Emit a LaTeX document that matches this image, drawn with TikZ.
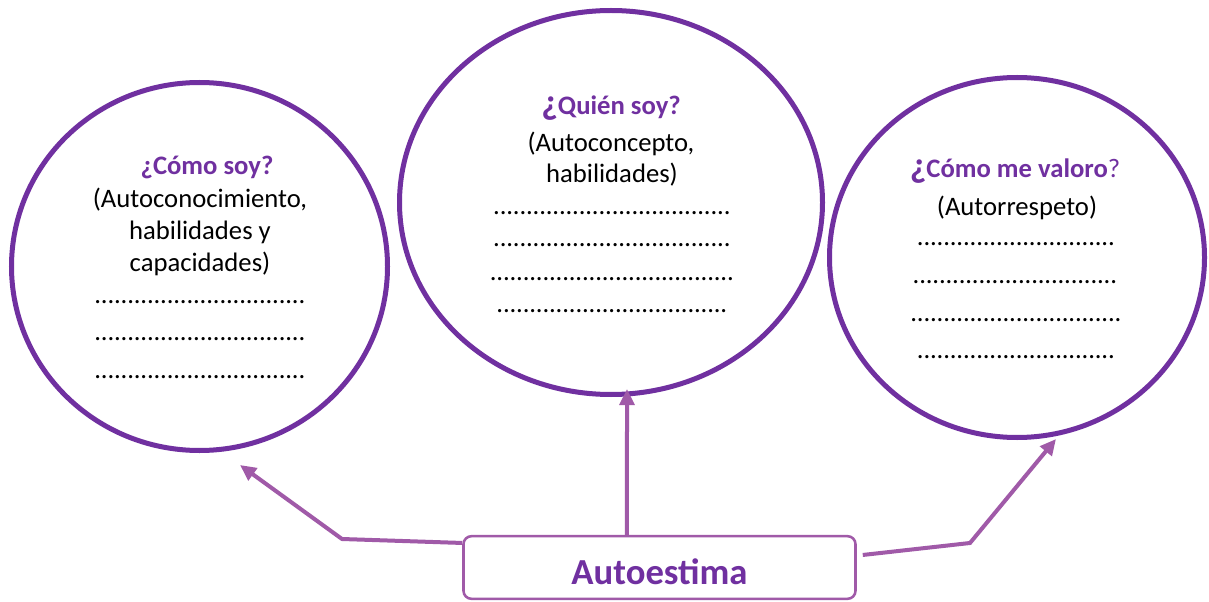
\documentclass[tikz,border=0pt]{standalone}
\usepackage{fontspec}
\setmainfont{Carlito}
\usetikzlibrary{shapes.geometric,arrows.meta}
\definecolor{circ}{HTML}{7030A0}
\definecolor{arr}{RGB}{160,90,168}
\newcommand\dotrow[1]{\hbox to #1{\cleaders\hbox to 4.95pt{\hss.\hss}\hfill}}
\newcommand\bigq{{\fontsize{27pt}{27pt}\selectfont ¿}}
\begin{document}
\begin{tikzpicture}[x=0.75pt,y=-0.75pt,
  bubble/.style={draw=circ,line width=3.75pt,ellipse,inner sep=0pt},
  txt/.style={anchor=base,inner sep=0pt,font=\fontsize{20pt}{24pt}\selectfont},
  ttl/.style={anchor=base,inner sep=0pt,text=circ,font=\fontsize{20pt}{24pt}\selectfont\bfseries},
  link/.style={draw=arr,line width=3pt,-{Triangle[length=12pt,width=11pt]}},
  mainbox/.style={draw=arr,line width=1.9pt,rounded corners=6pt,inner sep=0pt,
    minimum width=294pt,minimum height=47pt,text=circ,
    font=\fontsize{27.5pt}{30pt}\selectfont\bfseries,text height=24.75pt,text depth=0pt}]
\useasboundingbox (0,0) rectangle (1209,602);
\fill[white] (0,0) rectangle (1209,602);

% bubbles
\node[bubble,minimum width=282pt,minimum height=276pt] (cL) at (199.5,266.5) {};
\node[bubble,minimum width=317.25pt,minimum height=288pt] (cM) at (611,202.5) {};
\node[bubble,minimum width=281.25pt,minimum height=270pt] (cR) at (1017,257.5) {};

% left texts
\node[ttl] (tL1) at (207,175) {¿Cómo soy?};
\node[txt] (tL2) at (200,208) {(Autoconocimiento,};
\node[txt] (tL3) at (200,240) {habilidades y};
\node[txt] (tL4) at (200,272) {capacidades)};
\node[txt] (dL1) at (200,303) {\dotrow{162pt}};
\node[txt] (dL2) at (200,340) {\dotrow{159pt}};
\node[txt] (dL3) at (200,378) {\dotrow{159pt}};

% middle texts
\node[ttl] (tM1) at (611,115) {\bigq Quién soy?};
\node[txt] (tM2) at (611,152) {(Autoconcepto,};
\node[txt] (tM3) at (612,183) {habilidades)};
\node[txt] (dM1) at (612,215) {\dotrow{181.5pt}};
\node[txt] (dM2) at (612,247) {\dotrow{181.5pt}};
\node[txt] (dM3) at (612,280) {\dotrow{187.5pt}};
\node[txt] (dM4) at (612,312) {\dotrow{177pt}};

% right texts
\node[ttl] (tR1) at (1015,178) {\bigq Cómo me valoro{\mdseries ?}};
\node[txt] (tR2) at (1017,216) {(Autorrespeto)};
\node[txt] (dR1) at (1016,246) {\dotrow{149pt}};
\node[txt] (dR2) at (1015,283) {\dotrow{154pt}};
\node[txt] (dR3) at (1016,321) {\dotrow{159pt}};
\node[txt] (dR4) at (1016,358) {\dotrow{149pt}};

% central box
\node[mainbox] (auto) at (659.5,567.5) {Autoestima};

% connector points
\coordinate (lb) at (342,539);
\coordinate (lt) at (240,465);
\coordinate (mt) at (627,389);
\coordinate (rb) at (970,543);
\coordinate (rt) at (1056,439);

\draw[link] ([yshift=18.4pt]auto.west) -- (lb) -- (lt);
\draw[link] ([xshift=-24.4pt]auto.north) -- (mt);
\draw[link] ([xshift=4.5pt,yshift=9.4pt]auto.east) -- (rb) -- (rt);
\end{tikzpicture}
\end{document}
